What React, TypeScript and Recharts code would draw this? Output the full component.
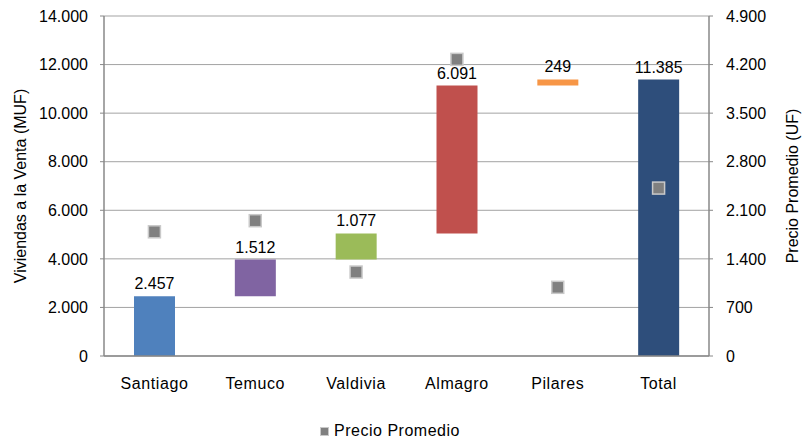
import React from "react";
import {
  ComposedChart, Bar, Scatter, XAxis, YAxis, CartesianGrid, Cell, LabelList,
} from "recharts";

const CIUDADES = ["Santiago", "Temuco", "Valdivia", "Almagro", "Pilares", "Total"];
const VIVIENDAS = [2457, 1512, 1077, 6091, 249, 11385];
const PRECIO = [1790, 1950, 1210, 4275, 990, 2420];
const COLORES = ["#4F81BD", "#8064A2", "#9BBB59", "#C0504D", "#F79646", "#2E4E7B"];
const TICKS_IZQ = [0, 2000, 4000, 6000, 8000, 10000, 12000, 14000];
const TICKS_DER = [0, 700, 1400, 2100, 2800, 3500, 4200, 4900];
const BORDES = [0, 1, 2, 3, 4, 5, 6];

// base invisible acumulada para la cascada; el total parte de cero
let acum = 0;
const data = CIUDADES.map((name, i) => {
  const esTotal = name === "Total";
  const base = esTotal ? 0 : acum;
  if (!esTotal) acum += VIVIENDAS[i];
  return { name, base, valor: VIVIENDAS[i], precio: PRECIO[i] };
});

const fmt = (v: number) => String(v).replace(/\B(?=(\d{3})+(?!\d))/g, ".");

const AXIS = "#888888";
const tick = { fontSize: 16, fill: "#000" } as const;

const Cuadro = (p: any) => (
  <rect x={p.cx - 6} y={p.cy - 6} width={12} height={12} fill="#808080" stroke="#C9C9C9" strokeWidth={1.5} />
);

export default function App() {
  return (
    <div style={{ position: "relative", width: 805, height: 442, fontFamily: "'Liberation Sans', Arial, sans-serif" }}>
      <style>{`body{margin:0}`}</style>
      <ComposedChart width={805} height={442} data={data}
        margin={{ top: 16, right: 0, left: 0, bottom: 0 }} barSize={41}
        style={{ fontFamily: "'Liberation Sans', Arial, sans-serif" }}>
        <CartesianGrid yAxisId="izq" xAxisId="cat" vertical={false} stroke="#A3A3A3" />
        <XAxis xAxisId="bordes" type="number" domain={[0, 6]} ticks={BORDES} tick={false}
          height={0} axisLine={false} tickLine={{ stroke: AXIS }} tickSize={5} />
        <XAxis xAxisId="cat" dataKey="name" height={86} tick={{ ...tick, letterSpacing: 0.6 }} tickLine={false}
          tickSize={0} tickMargin={22} axisLine={{ stroke: AXIS, strokeWidth: 1.5 }} />
        <YAxis yAxisId="izq" domain={[0, 14000]} ticks={TICKS_IZQ} tickFormatter={fmt}
          width={104} tick={tick} tickSize={4} tickMargin={12}
          axisLine={{ stroke: AXIS, strokeWidth: 1.5 }} tickLine={{ stroke: AXIS }}
          label={{ value: "Viviendas a la Venta (MUF)", angle: -90, position: "insideLeft", offset: 20,
            style: { textAnchor: "middle", fontSize: 16, fill: "#000" } }} />
        <YAxis yAxisId="der" orientation="right" domain={[0, 4900]} ticks={TICKS_DER} tickFormatter={fmt}
          width={96} tick={tick} tickSize={4} tickMargin={13}
          axisLine={{ stroke: AXIS, strokeWidth: 1.5 }} tickLine={{ stroke: AXIS }}
          label={{ value: "Precio Promedio (UF)", angle: -90, position: "insideRight", offset: 13,
            style: { textAnchor: "middle", fontSize: 16, fill: "#000" } }} />
        <Bar xAxisId="cat" yAxisId="izq" dataKey="base" stackId="a" fill="transparent" isAnimationActive={false} />
        <Bar xAxisId="cat" yAxisId="izq" dataKey="valor" stackId="a" isAnimationActive={false}>
          {data.map((_, i) => <Cell key={i} fill={COLORES[i]} />)}
          <LabelList dataKey="valor" position="top" offset={7} formatter={(v: any) => fmt(v)}
            style={{ fontSize: 16, fill: "#000" }} />
        </Bar>
        <Scatter xAxisId="cat" yAxisId="der" dataKey="precio" name="Precio Promedio"
          shape={Cuadro} isAnimationActive={false} />
      </ComposedChart>
      <div style={{ position: "absolute", top: 422, left: 0, width: 780, display: "flex",
        justifyContent: "center", alignItems: "center", fontSize: 16, letterSpacing: 0.5, color: "#000" }}>
        <span style={{ width: 7, height: 7, background: "#808080", border: "1px solid #C9C9C9", marginRight: 5 }} />
        Precio Promedio
      </div>
    </div>
  );
}
